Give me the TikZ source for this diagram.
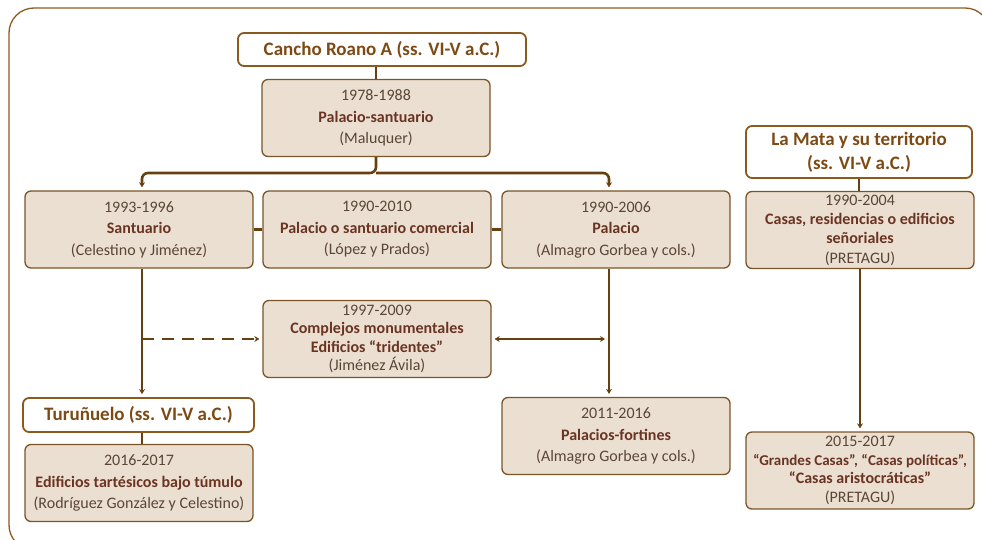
\documentclass[tikz,border=0pt]{standalone}
\usepackage{fontspec}
\setmainfont{Carlito}
\usepackage{xcolor}
\usetikzlibrary{arrows.meta,calc}
\definecolor{marco}{HTML}{8C5A1E}
\definecolor{caja}{HTML}{EBDFD1}
\definecolor{borde}{HTML}{7A5528}
\definecolor{linea}{HTML}{674012}
\definecolor{titulo}{HTML}{7E4A14}
\definecolor{fecha}{HTML}{5A4636}
\definecolor{tipo}{HTML}{6A3423}
\newcommand{\negr}[1]{{\color{tipo}\bfseries #1}}
\newcommand{\ficha}[3]{#1\\\negr{#2}\\#3}

\begin{document}
\begin{tikzpicture}[x=1pt,y=-1pt,
  titulobox/.style={draw=marco,line width=1.8pt,rounded corners=6pt,fill=white,text=titulo,
    font=\fontsize{19}{24}\selectfont\bfseries,align=center,inner sep=3pt},
  fichabox/.style={draw=borde,line width=1.3pt,rounded corners=6pt,fill=caja,text=fecha,
    minimum width=228pt,minimum height=77pt,align=center,inner sep=2pt,
    font=\fontsize{16}{21.5}\selectfont},
  link/.style={draw=linea,line width=2.6pt},
  flecha/.style={link,-{Stealth[length=5pt,width=6pt]},shorten >=3pt}]
  \useasboundingbox (0,0) rectangle (982,540);
  \draw[marco,line width=1.3pt,rounded corners=25pt] (9,8) rectangle (990,550);

  % Cancho Roano
  \node[titulobox,minimum width=288pt,minimum height=33pt] (cr) at (382,49.5) {Cancho Roano A (ss. VI-V a.C.)};
  \node[fichabox] (ps) at (376,118) {\ficha{1978-1988}{Palacio-santuario}{(Maluquer)}};
  \node[fichabox] (sa) at (139,229.5) {\ficha{1993-1996}{Santuario}{(Celestino y Jiménez)}};
  \node[fichabox] (pc) at (377,229.5) {\ficha{1990-2010}{Palacio o santuario comercial}{(López y Prados)}};
  \node[fichabox] (pa) at (616,229.5) {\ficha{1990-2006}{Palacio}{(Almagro Gorbea y cols.)}};
  \node[fichabox,font=\fontsize{16}{18.5}\selectfont] (co) at (377,339) {1997-2009\\\negr{Complejos monumentales}\\\negr{Edificios “tridentes”}\\(Jiménez Ávila)};
  \node[fichabox] (pf) at (616,436) {\ficha{2011-2016}{Palacios-fortines}{(Almagro Gorbea y cols.)}};

  % Turuñuelo
  \node[titulobox,minimum width=231pt,minimum height=34pt] (tu) at (138.5,415) {Turuñuelo (ss. VI-V a.C.)};
  \node[fichabox] (ed) at (139,483) {\ficha{2016-2017}{Edificios tartésicos bajo túmulo}{(Rodríguez González y Celestino)}};

  % La Mata
  \node[titulobox,minimum width=226pt,minimum height=52pt] (lm) at (859,152) {La Mata y su territorio\\(ss. VI-V a.C.)};
  \node[fichabox,font=\fontsize{16}{19.3}\selectfont] (cs) at (860,230) {1990-2004\\\negr{Casas, residencias o edificios}\\\negr{señoriales}\\(PRETAGU)};
  \node[fichabox,font=\fontsize{16}{18.5}\selectfont] (gc) at (860,470.5) {2015-2017\\
    \negr{\fontsize{15}{18.5}\selectfont “Grandes Casas”, “Casas políticas”,}\\
    \negr{“Casas aristocráticas”}\\(PRETAGU)};

  \coordinate (izq) at (142,0);
  \coordinate (der) at (609,0);
  \coordinate (rama) at (376,173);

  \draw[link] (ps.north) -- (ps.north |- cr.south);
  \draw[flecha,rounded corners=6pt] (ps.south) -- (rama) -| (izq |- sa.north);
  \draw[flecha,rounded corners=6pt] (rama) -| (der |- pa.north);
  \draw[link] (sa) -- (pc);
  \draw[link] (pc) -- (pa);
  \draw[flecha] (izq |- sa.south) -- (izq |- tu.north);
  \draw[flecha,dash pattern=on 12pt off 8pt] (izq |- co.west) -- (co.west);
  \draw[link,{Stealth[length=5pt,width=6pt]}-{Stealth[length=5pt,width=6pt]},shorten <=4pt,shorten >=3pt] (der |- co.east) -- (co.east);
  \draw[flecha] (der |- pa.south) -- (der |- pf.north);
  \draw[link] (izq |- tu.south) -- (izq |- ed.north);
  \draw[link] (lm.south) -- (lm.south |- cs.north);
  \draw[flecha] (cs.south) -- (gc.north);
\end{tikzpicture}
\end{document}
